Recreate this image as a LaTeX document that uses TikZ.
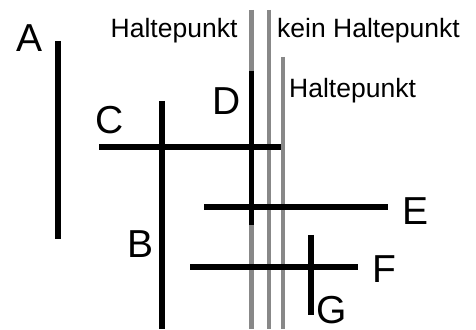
\documentclass[tikz,border=0pt]{standalone}
\usepackage{fontspec}
\setmainfont{Liberation Sans}
\begin{document}
\begin{tikzpicture}[x=1pt,y=1pt,
  blk/.style={line width=5.5pt,black},
  gry/.style={line width=4.5pt,color={rgb,255:red,136;green,136;blue,136}},
  big/.style={font=\fontsize{39}{39}\selectfont,inner sep=0pt},
  small/.style={font=\fontsize{26.5}{27}\selectfont,inner sep=0pt,anchor=base west}]
\useasboundingbox (0,0) rectangle (476,329);
% gray lines
\draw[gry] (251.5,319) -- (251.5,0);
\draw[gry] (269,319) -- (269,0);
\draw[gry] (283,272) -- (283,0);
% black lines
\draw[blk] (58,288) -- (58,90);
\draw[blk] (162,228) -- (162,0);
\draw[blk] (99,182) -- (281,182);
\draw[blk] (251.5,258) -- (251.5,104);
\draw[blk] (204,122) -- (388,122);
\draw[blk] (190,62) -- (358,62);
\draw[blk] (311,94) -- (311,14);
% labels
\node[big] (A) at (30,291) {A};
\node[big] (B) at (141,85) {B};
\node[big] (C) at (110,209) {C};
\node[big] (D) at (227,228) {D};
\node[big] (E) at (415,118) {E};
\node[big] (F) at (384,60) {F};
\node[big] (G) at (332,19) {G};
\node[small] (h1) at (110.5,291) {Haltepunkt};
\node[small] (h2) at (277,291) {kein Haltepunkt};
\node[small] (h3) at (289,231) {Haltepunkt};
\end{tikzpicture}
\end{document}
